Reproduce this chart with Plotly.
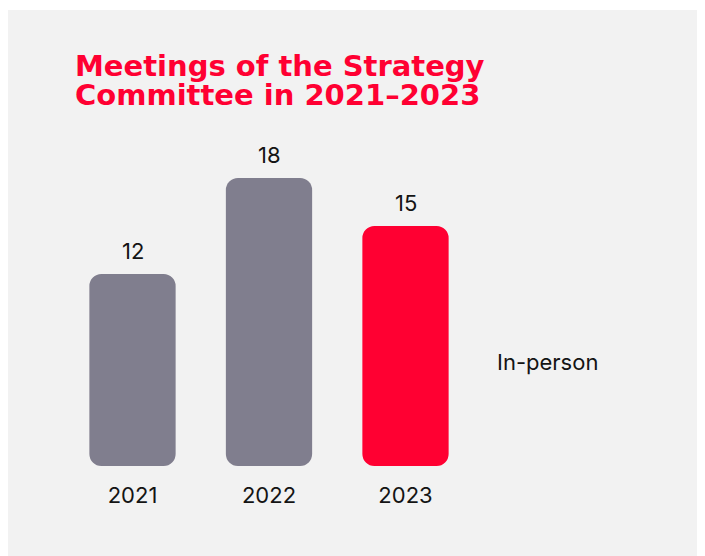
import plotly.graph_objects as go

# ---- data ----
years = ["2021", "2022", "2023"]
meetings = [12, 18, 15]
bar_colors = ["#807e8e", "#807e8e", "#ff0032"]
legend_label = "In-person"
title_lines = ["Meetings of the Strategy", "Committee in 2021–2023"]

W, H = 705, 556
BODY_FONT = "Inter"
TITLE_FONT = "DejaVu Sans"
TEXT_COLOR = "#141414"
RED = "#ff0032"
BG = "#f2f2f2"

fig = go.Figure()
fig.add_trace(go.Bar(
    x=list(range(len(years))), y=meetings, base=[0] * len(meetings),
    marker=dict(color=bar_colors, cornerradius=12, line=dict(width=0)),
    hoverinfo="skip", showlegend=False))

annotations = []
for i, v in enumerate(meetings):
    annotations.append(dict(x=i, y=v, xref="x", yref="y", text=str(v),
                            showarrow=False, yanchor="middle", yshift=23,
                            font=dict(family=BODY_FONT, size=22, color=TEXT_COLOR)))

annotations.append(dict(x=487 / W, y=(H - 354) / H, xref="paper", yref="paper",
                        text=legend_label, showarrow=False, xanchor="left", yanchor="middle",
                        font=dict(family=BODY_FONT, size=22, color=TEXT_COLOR)))

for i, line in enumerate(title_lines):
    baseline = 71.5 + i * 28.3
    annotations.append(dict(x=64.5 / W, y=(H - baseline) / H, xref="paper", yref="paper",
                            text=line, showarrow=False, xanchor="left", yanchor="bottom",
                            yshift=-6,
                            font=dict(family=TITLE_FONT, size=29, color=RED, weight="bold")))

fig.update_layout(
    width=W, height=H,
    margin=dict(l=0, r=0, t=0, b=0),
    paper_bgcolor=BG, plot_bgcolor="rgba(0,0,0,0)",
    bargap=0.368,
    showlegend=False,
    xaxis=dict(type="linear", domain=[56.25 / W, 465.75 / W], range=[-0.5, 2.5],
               showgrid=False, zeroline=False, showline=False, ticks="",
               tickmode="array", tickvals=list(range(len(years))), ticktext=years,
               tickfont=dict(family=BODY_FONT, size=22, color=TEXT_COLOR),
               ticklabelstandoff=14),
    yaxis=dict(domain=[98 / H, 418 / H], range=[0, 20], visible=False),
    shapes=[dict(type="rect", xref="paper", yref="paper", x0=0, x1=1,
                 y0=(H - 2) / H, y1=1, fillcolor="white", line=dict(width=0),
                 layer="below")],
    annotations=annotations,
)

fig.write_html(
    "out.html",
    default_width=f"{W}px", default_height=f"{H}px",
    post_script="document.documentElement.style.overflow='hidden';"
                "document.body.style.overflow='hidden';",
)
